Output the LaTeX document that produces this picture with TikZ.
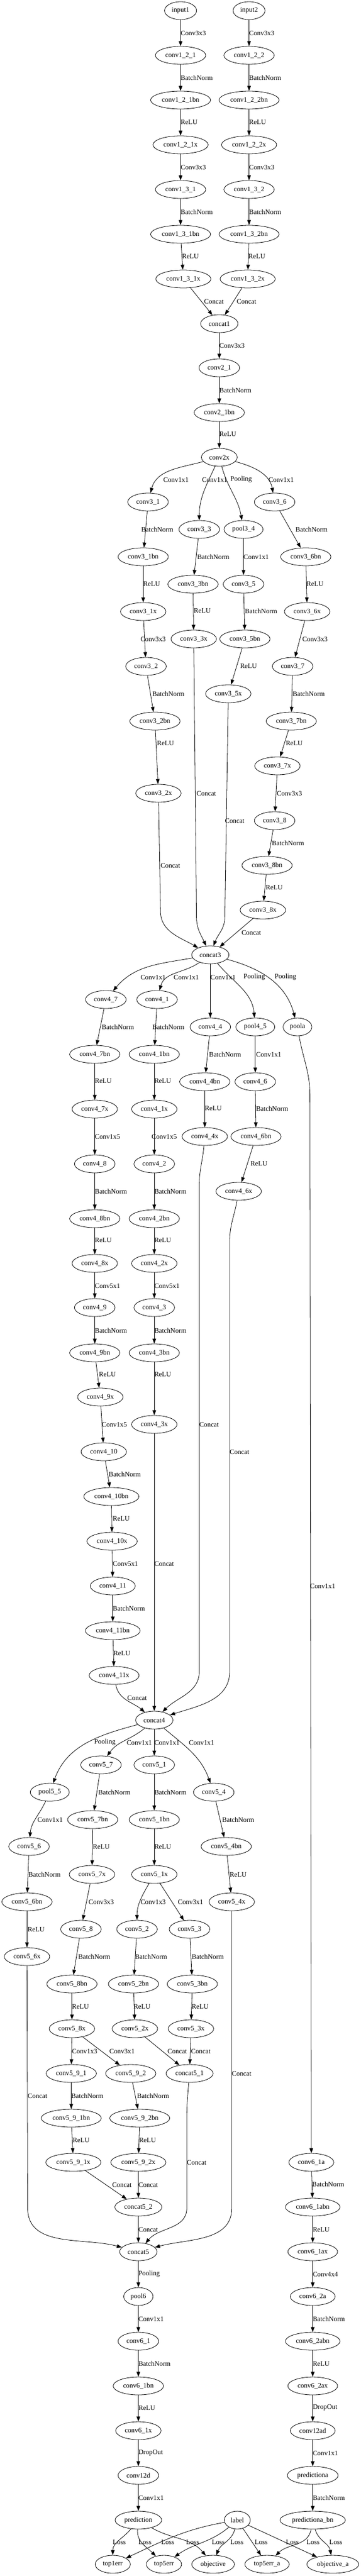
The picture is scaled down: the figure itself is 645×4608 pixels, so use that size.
\documentclass[tikz,border=0pt]{standalone}
\usepackage{fontspec}
\setmainfont{Liberation Serif}
\usetikzlibrary{arrows.meta,shapes.geometric}
\newcounter{lbc}
\newcommand\gnode[4]{\node[gv] (#1) at (#2,-#3) {#4};}
\newcommand\glab[3]{\stepcounter{lbc}\node[gl] (lb\arabic{lbc}) at (#1,-#2) {#3};}
\tikzset{
  gv/.style={draw, ellipse, line width=0.8pt, minimum height=32pt, inner xsep=4.5pt, inner ysep=1pt, font=\fontsize{12.3}{14}\selectfont},
  gl/.style={anchor=west, inner sep=0pt, font=\fontsize{12.3}{14}\selectfont},
  conn/.style={line width=0.8pt, -{Triangle[length=9pt,width=6.5pt]}},
}
\begin{document}
\begin{tikzpicture}[x=1.238pt, y=1pt]
\fill[white] (0pt,0pt) rectangle (645pt,-4608pt);
\useasboundingbox (0pt,0pt) rectangle (645pt,-4608pt);
% ---------------- nodes
\gnode{input1}{261}{19}{input1}
\gnode{input2}{360}{19}{input2}
\gnode{c121}{261}{99}{conv1\_2\_1}
\gnode{c122}{360}{99}{conv1\_2\_2}
\gnode{c121bn}{261}{179}{conv1\_2\_1bn}
\gnode{c122bn}{360}{179}{conv1\_2\_2bn}
\gnode{c121x}{261}{259}{conv1\_2\_1x}
\gnode{c122x}{360}{259}{conv1\_2\_2x}
\gnode{c131}{261}{339}{conv1\_3\_1}
\gnode{c132}{360}{339}{conv1\_3\_2}
\gnode{c131bn}{261}{419}{conv1\_3\_1bn}
\gnode{c132bn}{360}{419}{conv1\_3\_2bn}
\gnode{c131x}{265}{499}{conv1\_3\_1x}
\gnode{c132x}{358}{499}{conv1\_3\_2x}
\gnode{concat1}{317}{579}{concat1}
\gnode{c21}{317}{658}{conv2\_1}
\gnode{c21bn}{317}{738}{conv2\_1bn}
\gnode{c2x}{317}{818}{conv2x}
\gnode{c31}{214}{898}{conv3\_1}
\gnode{c33}{288}{947}{conv3\_3}
\gnode{p34}{352}{947}{pool3\_4}
\gnode{c36}{397}{898}{conv3\_6}
\gnode{c31bn}{207}{996}{conv3\_1bn}
\gnode{c33bn}{279}{1045}{conv3\_3bn}
\gnode{c35}{352}{1045}{conv3\_5}
\gnode{c36bn}{442}{996}{conv3\_6bn}
\gnode{c31x}{207}{1094}{conv3\_1x}
\gnode{c33x}{280}{1143}{conv3\_3x}
\gnode{c35bn}{354}{1143}{conv3\_5bn}
\gnode{c36x}{444}{1094}{conv3\_6x}
\gnode{c32}{211}{1192}{conv3\_2}
\gnode{c37}{423}{1192}{conv3\_7}
\gnode{c35x}{330}{1241}{conv3\_5x}
\gnode{c32bn}{224}{1290}{conv3\_2bn}
\gnode{c37bn}{421}{1290}{conv3\_7bn}
\gnode{c37x}{401}{1370}{conv3\_7x}
\gnode{c32x}{229}{1419}{conv3\_2x}
\gnode{c38}{397}{1468}{conv3\_8}
\gnode{c38bn}{386}{1548}{conv3\_8bn}
\gnode{c38x}{380}{1628}{conv3\_8x}
\gnode{concat3}{304}{1708}{concat3}
\gnode{c47}{153}{1788}{conv4\_7}
\gnode{c41}{227}{1788}{conv4\_1}
\gnode{c44}{304}{1837}{conv4\_4}
\gnode{p45}{369}{1837}{pool4\_5}
\gnode{poola}{430}{1837}{poola}
\gnode{c47bn}{137}{1886}{conv4\_7bn}
\gnode{c41bn}{223}{1886}{conv4\_1bn}
\gnode{c44bn}{296}{1935}{conv4\_4bn}
\gnode{c46}{369}{1935}{conv4\_6}
\gnode{c47x}{137}{1984}{conv4\_7x}
\gnode{c41x}{223}{1984}{conv4\_1x}
\gnode{c44x}{296}{2033}{conv4\_4x}
\gnode{c46bn}{370}{2033}{conv4\_6bn}
\gnode{c48}{137}{2082}{conv4\_8}
\gnode{c42}{223}{2082}{conv4\_2}
\gnode{c46x}{345}{2131}{conv4\_6x}
\gnode{c48bn}{137}{2180}{conv4\_8bn}
\gnode{c42bn}{223}{2180}{conv4\_2bn}
\gnode{c48x}{137}{2260}{conv4\_8x}
\gnode{c42x}{223}{2260}{conv4\_2x}
\gnode{c49}{137}{2339}{conv4\_9}
\gnode{c43}{223}{2339}{conv4\_3}
\gnode{c49bn}{137}{2420}{conv4\_9bn}
\gnode{c43bn}{223}{2420}{conv4\_3bn}
\gnode{c49x}{145}{2499}{conv4\_9x}
\gnode{c43x}{223}{2548}{conv4\_3x}
\gnode{c410}{150}{2597}{conv4\_10}
\gnode{c410bn}{161}{2677}{conv4\_10bn}
\gnode{c410x}{162}{2757}{conv4\_10x}
\gnode{c411}{163}{2837}{conv4\_11}
\gnode{c411bn}{163}{2917}{conv4\_11bn}
\gnode{c411x}{165}{2997}{conv4\_11x}
\gnode{concat4}{223}{3077}{concat4}
\gnode{c57}{146}{3157}{conv5\_7}
\gnode{c51}{223}{3157}{conv5\_1}
\gnode{p55}{72}{3206}{pool5\_5}
\gnode{c54}{309}{3206}{conv5\_4}
\gnode{c57bn}{134}{3255}{conv5\_7bn}
\gnode{c51bn}{223}{3255}{conv5\_1bn}
\gnode{c56}{42}{3303}{conv5\_6}
\gnode{c54bn}{327}{3303}{conv5\_4bn}
\gnode{c57x}{133}{3353}{conv5\_7x}
\gnode{c51x}{223}{3353}{conv5\_1x}
\gnode{c56bn}{39}{3402}{conv5\_6bn}
\gnode{c54x}{335}{3402}{conv5\_4x}
\gnode{c58}{117}{3451}{conv5\_8}
\gnode{c52}{198}{3451}{conv5\_2}
\gnode{c53}{274}{3451}{conv5\_3}
\gnode{c56x}{39}{3500}{conv5\_6x}
\gnode{c58bn}{104}{3549}{conv5\_8bn}
\gnode{c52bn}{193}{3549}{conv5\_2bn}
\gnode{c53bn}{278}{3549}{conv5\_3bn}
\gnode{c58x}{104}{3629}{conv5\_8x}
\gnode{c52x}{195}{3629}{conv5\_2x}
\gnode{c53x}{276}{3629}{conv5\_3x}
\gnode{c591}{103}{3709}{conv5\_9\_1}
\gnode{c592}{189}{3709}{conv5\_9\_2}
\gnode{cat51}{274}{3709}{concat5\_1}
\gnode{c591bn}{103}{3789}{conv5\_9\_1bn}
\gnode{c592bn}{202}{3789}{conv5\_9\_2bn}
\gnode{c591x}{106}{3868}{conv5\_9\_1x}
\gnode{c592x}{200}{3868}{conv5\_9\_2x}
\gnode{c61a}{450}{3868}{conv6\_1a}
\gnode{cat52}{200}{3948}{concat5\_2}
\gnode{cat5}{200}{4028}{concat5}
\gnode{pool6}{200}{4108}{pool6}
\gnode{c61}{200}{4188}{conv6\_1}
\gnode{c61bn}{200}{4268}{conv6\_1bn}
\gnode{c61abn}{452}{3948}{conv6\_1abn}
\gnode{c61ax}{452}{4028}{conv6\_1ax}
\gnode{c62a}{452}{4108}{conv6\_2a}
\gnode{c62abn}{452}{4188}{conv6\_2abn}
\gnode{c62ax}{452}{4268}{conv6\_2ax}
\gnode{c61x}{200}{4348}{conv6\_1x}
\gnode{conv12d}{200}{4428}{conv12d}
\gnode{pred}{200}{4508}{prediction}
\gnode{label}{343}{4508}{label}
\gnode{conv12ad}{452}{4348}{conv12ad}
\gnode{preda}{452}{4428}{predictiona}
\gnode{predabn}{452}{4508}{predictiona\_bn}
\gnode{top1}{163}{4587}{top1err}
\gnode{top5}{237}{4587}{top5err}
\gnode{obj}{308}{4587}{objective}
\gnode{top5a}{386}{4587}{top5err\_a}
\gnode{obja}{481}{4587}{objective\_a}
% ---------------- edges
\draw[conn] (input1) -- (c121); \glab{261}{59}{Conv3x3}
\draw[conn] (input2) -- (c122); \glab{360}{59}{Conv3x3}
\draw[conn] (c121) -- (c121bn); \glab{261}{139}{BatchNorm}
\draw[conn] (c122) -- (c122bn); \glab{360}{139}{BatchNorm}
\draw[conn] (c121bn) -- (c121x); \glab{261}{219}{ReLU}
\draw[conn] (c122bn) -- (c122x); \glab{360}{219}{ReLU}
\draw[conn] (c121x) -- (c131); \glab{261}{299}{Conv3x3}
\draw[conn] (c122x) -- (c132); \glab{360}{299}{Conv3x3}
\draw[conn] (c131) -- (c131bn); \glab{261}{379}{BatchNorm}
\draw[conn] (c132) -- (c132bn); \glab{360}{379}{BatchNorm}
\draw[conn] (c131bn) -- (c131x); \glab{263}{459}{ReLU}
\draw[conn] (c132bn) -- (c132x); \glab{359}{459}{ReLU}
\draw[conn] (c131x) -- (concat1); \glab{295}{539}{Concat}
\draw[conn] (c132x) -- (concat1); \glab{342}{539}{Concat}
\draw[conn] (concat1) -- (c21); \glab{317}{618}{Conv3x3}
\draw[conn] (c21) -- (c21bn); \glab{317}{698}{BatchNorm}
\draw[conn] (c21bn) -- (c2x); \glab{317}{777}{ReLU}
\draw[conn] (c2x) to[out=195,in=75] (c31); \glab{236}{858}{Conv1x1}
\draw[conn] (c2x) to[out=-115,in=90] (c33); \glab{292}{858}{Conv1x1}
\draw[conn] (c2x) to[out=-75,in=100] (p34); \glab{333}{858}{Pooling}
\draw[conn] (c2x) to[out=-15,in=100] (c36); \glab{388}{858}{Conv1x1}
\draw[conn] (c31) -- (c31bn); \glab{204}{947}{BatchNorm}
\draw[conn] (c33) -- (c33bn); \glab{285}{996}{BatchNorm}
\draw[conn] (p34) -- (c35); \glab{352}{996}{Conv1x1}
\draw[conn] (c36) -- (c36bn); \glab{427}{947}{BatchNorm}
\draw[conn] (c31bn) -- (c31x); \glab{207}{1045}{ReLU}
\draw[conn] (c33bn) -- (c33x); \glab{280}{1093}{ReLU}
\draw[conn] (c35) -- (c35bn); \glab{354}{1093}{BatchNorm}
\draw[conn] (c36bn) -- (c36x); \glab{443}{1045}{ReLU}
\draw[conn] (c31x) -- (c32); \glab{203}{1143}{Conv3x3}
\draw[conn] (c36x) -- (c37); \glab{437}{1143}{Conv3x3}
\draw[conn] (c35bn) -- (c35x); \glab{347}{1192}{ReLU}
\draw[conn] (c32) -- (c32bn); \glab{220}{1241}{BatchNorm}
\draw[conn] (c37) -- (c37bn); \glab{423}{1241}{BatchNorm}
\draw[conn] (c32bn) -- (c32x); \glab{227}{1330}{ReLU}
\draw[conn] (c37bn) -- (c37x); \glab{413}{1330}{ReLU}
\draw[conn] (c37x) -- (c38); \glab{400}{1419}{Conv3x3}
\draw[conn] (c38) -- (c38bn); \glab{393}{1508}{BatchNorm}
\draw[conn] (c38bn) -- (c38x); \glab{384}{1588}{ReLU}
\draw[conn] (c33x) -- (284,-1640) to[out=-90,in=115] (concat3); \glab{284}{1419}{Concat}
\draw[conn] (c35x) -- (325,-1640) to[out=-90,in=70] (concat3); \glab{325}{1468}{Concat}
\draw[conn] (c32x) -- (232,-1630) to[out=-90,in=150] (concat3); \glab{232}{1548}{Concat}
\draw[conn] (c38x) -- (concat3); \glab{349}{1668}{Concat}
\draw[conn] (concat3) to[out=190,in=50] (c47); \glab{203}{1748}{Conv1x1}
\draw[conn] (concat3) to[out=-145,in=75] (c41); \glab{251}{1748}{Conv1x1}
\draw[conn] (concat3) -- (c44); \glab{304}{1748}{Conv1x1}
\draw[conn] (concat3) to[out=-50,in=95] (p45); \glab{352}{1748}{Pooling}
\draw[conn] (concat3) to[out=-15,in=105] (poola); \glab{397}{1748}{Pooling}
\draw[conn] (c47) -- (c47bn); \glab{147}{1837}{BatchNorm}
\draw[conn] (c41) -- (c41bn); \glab{220}{1837}{BatchNorm}
\draw[conn] (c44) -- (c44bn); \glab{302}{1886}{BatchNorm}
\draw[conn] (p45) -- (c46); \glab{370}{1886}{Conv1x1}
\draw[conn] (c47bn) -- (c47x); \glab{137}{1934}{ReLU}
\draw[conn] (c41bn) -- (c41x); \glab{223}{1934}{ReLU}
\draw[conn] (c44bn) -- (c44x); \glab{296}{1983}{ReLU}
\draw[conn] (c46) -- (c46bn); \glab{370}{1983}{BatchNorm}
\draw[conn] (c47x) -- (c48); \glab{137}{2033}{Conv1x5}
\draw[conn] (c41x) -- (c42); \glab{219}{2033}{Conv1x5}
\draw[conn] (c46bn) -- (c46x); \glab{362}{2082}{ReLU}
\draw[conn] (c48) -- (c48bn); \glab{137}{2131}{BatchNorm}
\draw[conn] (c42) -- (c42bn); \glab{223}{2131}{BatchNorm}
\draw[conn] (c48bn) -- (c48x); \glab{137}{2219}{ReLU}
\draw[conn] (c42bn) -- (c42x); \glab{223}{2219}{ReLU}
\draw[conn] (c48x) -- (c49); \glab{137}{2300}{Conv5x1}
\draw[conn] (c42x) -- (c43); \glab{223}{2300}{Conv5x1}
\draw[conn] (c49) -- (c49bn); \glab{137}{2380}{BatchNorm}
\draw[conn] (c43) -- (c43bn); \glab{223}{2380}{BatchNorm}
\draw[conn] (c49bn) -- (c49x); \glab{143}{2459}{ReLU}
\draw[conn] (c43bn) -- (c43x); \glab{223}{2459}{ReLU}
\draw[conn] (c49x) -- (c410); \glab{147}{2548}{Conv1x5}
\draw[conn] (c410) -- (c410bn); \glab{157}{2637}{BatchNorm}
\draw[conn] (c410bn) -- (c410x); \glab{163}{2717}{ReLU}
\draw[conn] (c410x) -- (c411); \glab{163}{2797}{Conv5x1}
\draw[conn] (c411) -- (c411bn); \glab{163}{2877}{BatchNorm}
\draw[conn] (c411bn) -- (c411x); \glab{164}{2957}{ReLU}
\draw[conn] (c411x) to[out=-80,in=140] (concat4); \glab{184}{3037}{Concat}
\draw[conn] (c43x) -- (concat4); \glab{223}{2797}{Concat}
\draw[conn] (c44x) to[out=-95,in=90] (288,-2120) -- (288,-2990) to[out=-90,in=45] (concat4); \glab{288}{2548}{Concat}
\draw[conn] (c46x) to[out=-100,in=90] (332,-2220) -- (332,-2990) to[out=-90,in=18] (concat4); \glab{332}{2597}{Concat}
\draw[conn] (poola) to[out=-80,in=90] (448,-1960) -- (c61a); \glab{448}{2837}{Conv1x1}
\draw[conn] (concat4) to[out=195,in=70] (p55); \glab{136}{3117}{Pooling}
\draw[conn] (concat4) to[out=-140,in=55] (c57); \glab{183}{3117}{Conv1x1}
\draw[conn] (concat4) -- (c51); \glab{223}{3117}{Conv1x1}
\draw[conn] (concat4) to[out=-40,in=110] (c54); \glab{273}{3117}{Conv1x1}
\draw[conn] (c57) -- (c57bn); \glab{142}{3206}{BatchNorm}
\draw[conn] (c51) -- (c51bn); \glab{223}{3206}{BatchNorm}
\draw[conn] (p55) to[out=-115,in=85] (c56); \glab{54}{3255}{Conv1x1}
\draw[conn] (c54) -- (c54bn); \glab{321}{3255}{BatchNorm}
\draw[conn] (c57bn) -- (c57x); \glab{134}{3303}{ReLU}
\draw[conn] (c51bn) -- (c51x); \glab{223}{3303}{ReLU}
\draw[conn] (c56) -- (c56bn); \glab{41}{3353}{BatchNorm}
\draw[conn] (c54bn) -- (c54x); \glab{332}{3353}{ReLU}
\draw[conn] (c57x) -- (c58); \glab{128}{3402}{Conv3x3}
\draw[conn] (c51x) to[out=-120,in=90] (c52); \glab{203}{3402}{Conv1x3}
\draw[conn] (c51x) -- (c53); \glab{257}{3402}{Conv3x1}
\draw[conn] (c56bn) -- (c56x); \glab{40}{3451}{ReLU}
\draw[conn] (c58) -- (c58bn); \glab{113}{3500}{BatchNorm}
\draw[conn] (c52) -- (c52bn); \glab{195}{3500}{BatchNorm}
\draw[conn] (c53) -- (c53bn); \glab{277}{3500}{BatchNorm}
\draw[conn] (c56x) -- (40,-3950) to[out=-90,in=165] (cat5); \glab{40}{3749}{Concat}
\draw[conn] (c54x) -- (335,-3950) to[out=-90,in=15] (cat5); \glab{335}{3709}{Concat}
\draw[conn] (c58bn) -- (c58x); \glab{104}{3589}{ReLU}
\draw[conn] (c52bn) -- (c52x); \glab{193}{3589}{ReLU}
\draw[conn] (c53bn) -- (c53x); \glab{277}{3589}{ReLU}
\draw[conn] (c58x) -- (c591); \glab{104}{3669}{Conv1x3}
\draw[conn] (c58x) -- (c592); \glab{158}{3669}{Conv3x1}
\draw[conn] (c52x) -- (cat51); \glab{242}{3669}{Concat}
\draw[conn] (c53x) -- (cat51); \glab{276}{3669}{Concat}
\draw[conn] (c591) -- (c591bn); \glab{103}{3749}{BatchNorm}
\draw[conn] (c592) -- (c592bn); \glab{198}{3749}{BatchNorm}
\draw[conn] (cat51) to[out=-95,in=90] (270,-3790) -- (270,-3950) to[out=-90,in=50] (cat5); \glab{270}{3868}{Concat}
\draw[conn] (c591bn) -- (c591x); \glab{105}{3828}{ReLU}
\draw[conn] (c592bn) -- (c592x); \glab{201}{3828}{ReLU}
\draw[conn] (c591x) -- (cat52); \glab{162}{3908}{Concat}
\draw[conn] (c592x) -- (cat52); \glab{200}{3908}{Concat}
\draw[conn] (c61a) -- (c61abn); \glab{451}{3907}{BatchNorm}
\draw[conn] (cat52) -- (cat5); \glab{200}{3988}{Concat}
\draw[conn] (cat5) -- (pool6); \glab{200}{4068}{Pooling}
\draw[conn] (pool6) -- (c61); \glab{200}{4148}{Conv1x1}
\draw[conn] (c61) -- (c61bn); \glab{200}{4228}{BatchNorm}
\draw[conn] (c61abn) -- (c61ax); \glab{452}{3988}{ReLU}
\draw[conn] (c61ax) -- (c62a); \glab{452}{4068}{Conv4x4}
\draw[conn] (c62a) -- (c62abn); \glab{452}{4148}{BatchNorm}
\draw[conn] (c62abn) -- (c62ax); \glab{452}{4228}{ReLU}
\draw[conn] (c61bn) -- (c61x); \glab{200}{4307}{ReLU}
\draw[conn] (c61x) -- (conv12d); \glab{200}{4388}{DropOut}
\draw[conn] (conv12d) -- (pred); \glab{200}{4468}{Conv1x1}
\draw[conn] (c62ax) -- (conv12ad); \glab{452}{4307}{DropOut}
\draw[conn] (conv12ad) -- (preda); \glab{452}{4388}{Conv1x1}
\draw[conn] (preda) -- (predabn); \glab{452}{4468}{BatchNorm}
\draw[conn] (pred) to[out=-130,in=90] (top1); \glab{163}{4547}{Loss}
\draw[conn] (pred) to[out=-95,in=135] (top5); \glab{200}{4547}{Loss}
\draw[conn] (pred) to[out=-30,in=130] (obj); \glab{269}{4547}{Loss}
\draw[conn] (label) to[out=190,in=25] (top1); \glab{233}{4547}{Loss}
\draw[conn] (label) to[out=-140,in=35] (top5); \glab{306}{4547}{Loss}
\draw[conn] (label) to[out=-105,in=70] (obj); \glab{333}{4547}{Loss}
\draw[conn] (label) -- (top5a); \glab{368}{4547}{Loss}
\draw[conn] (label) -- (obja); \glab{413}{4547}{Loss}
\draw[conn] (predabn) to[out=-100,in=45] (top5a); \glab{443}{4547}{Loss}
\draw[conn] (predabn) to[out=-75,in=100] (obja); \glab{476}{4547}{Loss}
\end{tikzpicture}
\end{document}
